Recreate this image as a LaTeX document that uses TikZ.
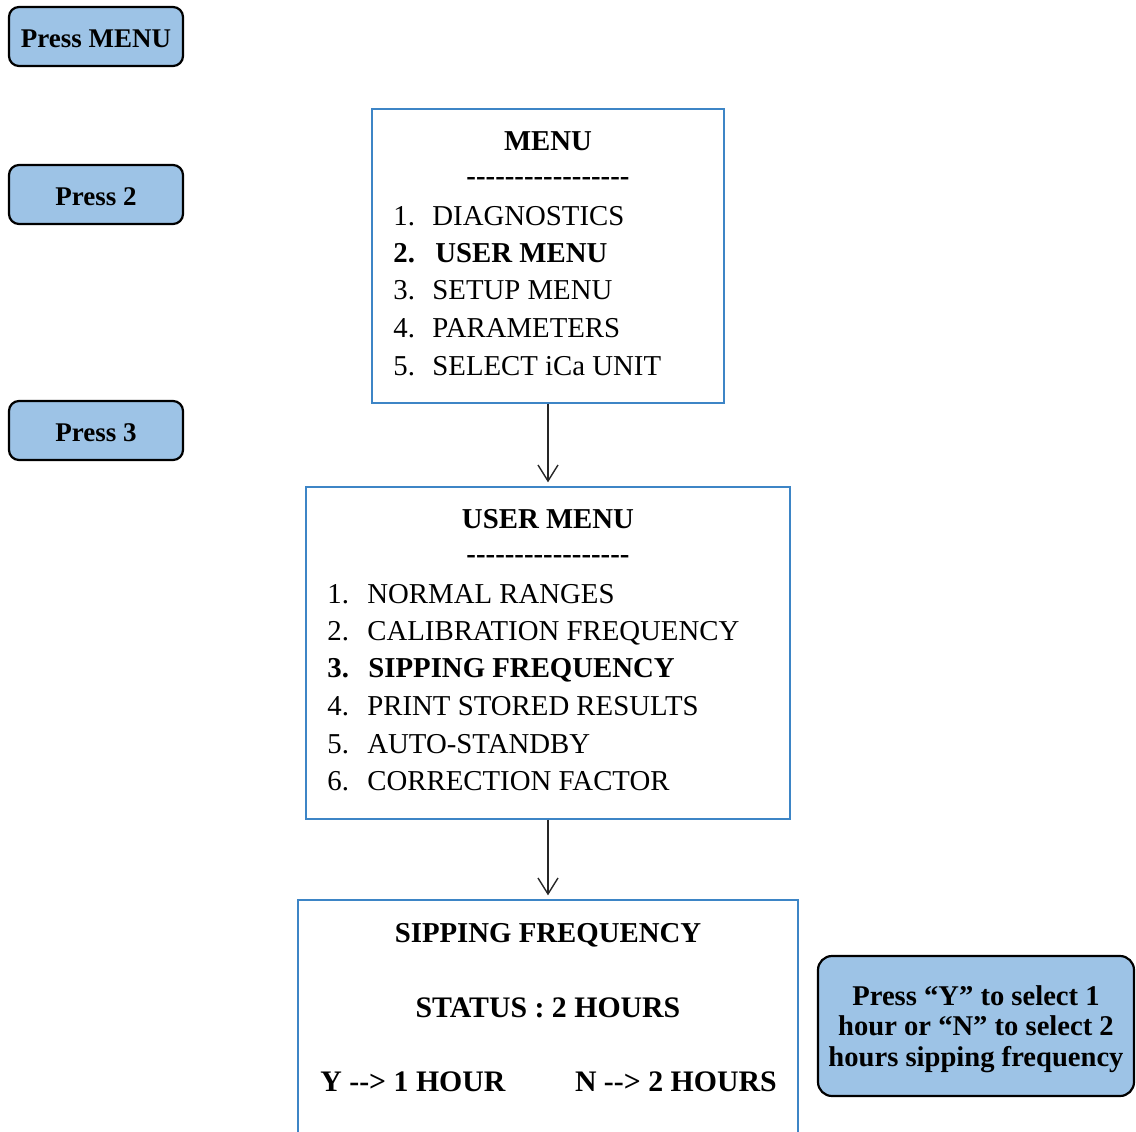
\documentclass[tikz,border=0pt]{standalone}
\usepackage{fontspec}
\setmainfont{Liberation Serif}[Ligatures=TeXOff]
\usetikzlibrary{arrows.meta}

\definecolor{keyblue}{HTML}{9DC3E6}
\definecolor{screenblue}{HTML}{3D85C6}

\tikzset{
  keybox/.style={draw=black, line width=1.1pt, fill=keyblue, rounded corners=5pt,
    font=\fontsize{13.5}{16}\selectfont\bfseries, minimum width=87pt,
    minimum height=29.5pt, inner sep=0pt, text height=10.5pt, text depth=0pt},
  screen/.style={draw=screenblue, line width=0.7pt, inner sep=0pt},
  menutext/.style={anchor=base west, inner sep=0pt, font=\fontsize{14.4}{18}\selectfont},
  menutitle/.style={anchor=base, inner sep=0pt, font=\fontsize{14.4}{18}\selectfont\bfseries},
  sipline/.style={menutitle, font=\fontsize{14.9}{18}\selectfont\bfseries},
  flow/.style={-{Straight Barb[length=8pt,width=10pt]}, line width=0.7pt,
    draw=black!85, shorten >=2pt},
}

\begin{document}
\begin{tikzpicture}[x=0.5pt, y=-0.5pt]
  \useasboundingbox (0,0) rectangle (1136,1131);

  % Keys on the left
  \node[keybox] (keymenu) at (96,36.5) {Press MENU};
  \node[keybox] (keytwo) at (96,194.5) {Press 2};
  \node[keybox] (keythree) at (96,430.5) {Press 3};

  % Screens
  \node[screen, minimum width=176pt, minimum height=147pt] (menu) at (548,256) {};
  \node[screen, minimum width=242pt, minimum height=166pt] (usermenu) at (548,653) {};
  \node[screen, minimum width=250pt, minimum height=140pt] (sipping) at (548,1040) {};

  \draw[flow] (menu.south) -- (usermenu.north);
  \draw[flow] (usermenu.south) -- (sipping.north);

  % Main menu
  \node[menutitle] (menuhead) at (548,150) {MENU};
  \node[menutitle] (menurule) at (548,185) {-----------------};
  \node[menutext] (menuA) at (393,225) {\makebox[19.5pt][l]{1.}DIAGNOSTICS};
  \node[menutext] (menuB) at (393,262) {\bfseries\makebox[21pt][l]{2.}USER MENU};
  \node[menutext] (menuC) at (393,299.5) {\makebox[19.5pt][l]{3.}SETUP MENU};
  \node[menutext] (menuD) at (393,337) {\makebox[19.5pt][l]{4.}PARAMETERS};
  \node[menutext] (menuE) at (393,375) {\makebox[19.5pt][l]{5.}SELECT iCa UNIT};

  % User menu
  \node[menutitle] (userhead) at (548,528) {USER MENU};
  \node[menutitle] (userrule) at (548,563) {-----------------};
  \node[menutext] (userA) at (327,603) {\makebox[20pt][l]{1.}NORMAL RANGES};
  \node[menutext] (userB) at (327,640) {\makebox[20pt][l]{2.}CALIBRATION FREQUENCY};
  \node[menutext] (userC) at (327,677.5) {\bfseries\makebox[20.5pt][l]{3.}SIPPING FREQUENCY};
  \node[menutext] (userD) at (327,715) {\makebox[20pt][l]{4.}PRINT STORED RESULTS};
  \node[menutext] (userE) at (327,753) {\makebox[20pt][l]{5.}AUTO-STANDBY};
  \node[menutext] (userF) at (327,790) {\makebox[20pt][l]{6.}CORRECTION FACTOR};

  % Sipping frequency screen
  \node[menutitle] (siphead) at (548,942) {SIPPING FREQUENCY};
  \node[sipline] (sipstatus) at (548,1017) {STATUS : 2 HOURS};
  \node[sipline, anchor=base west] (sipyes) at (320,1091) {Y --> 1 HOUR};
  \node[sipline, anchor=base east] (sipno) at (777,1091) {N --> 2 HOURS};

  % Hint
  \node[keybox, rounded corners=7pt, minimum width=158pt, minimum height=70pt,
    text height=, text depth=,
    font=\fontsize{14.3}{15.25}\selectfont\bfseries] (hint) at (976,1026)
    {\raisebox{-5.5pt}[0pt][0pt]{\begin{tabular}{@{}c@{}}Press “Y” to select 1\\hour or “N” to select 2\\hours sipping frequency\end{tabular}}};
\end{tikzpicture}
\end{document}
